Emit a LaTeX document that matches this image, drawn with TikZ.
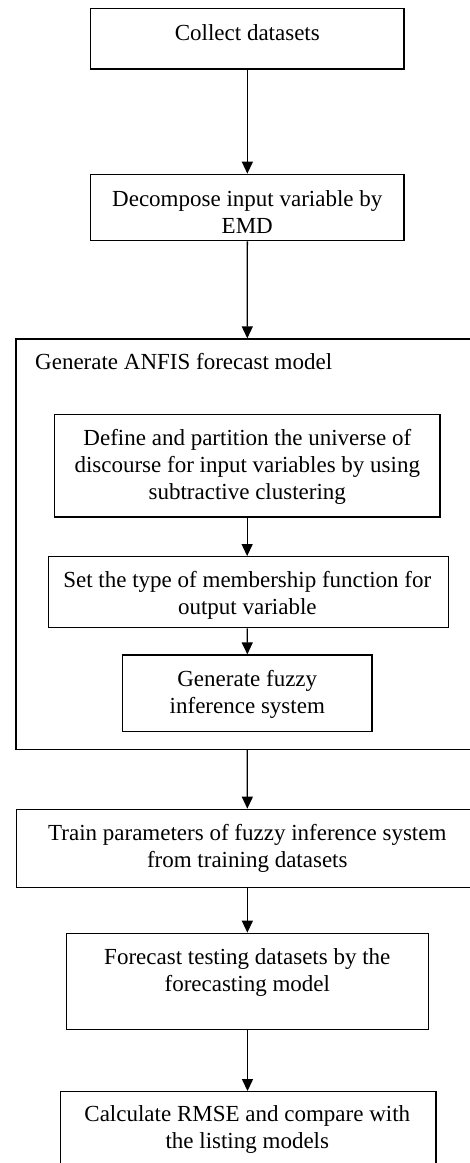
\documentclass[tikz,border=0pt]{standalone}
\usepackage{fontspec}
\setmainfont{Liberation Serif}
\usetikzlibrary{arrows.meta}

\begin{document}
\begin{tikzpicture}[x=1pt,y=1pt,yscale=-1,xscale=1,
  stepbox/.style={draw,line width=1.3,inner sep=0pt},
  steptext/.style={anchor=base,align=center,inner sep=0pt,font=\fontsize{23}{27}\selectfont},
  flow/.style={line width=1.3,-{Triangle[length=12,width=11]}}]
\useasboundingbox (0,0) rectangle (470,1163);
\clip (0,0) rectangle (470,1163);

%Shape: Rectangle [id:collect] 
\node [stepbox,minimum width=313.3,minimum height=60.7] (collect) at (247.35,38.65) {};
%Shape: Rectangle [id:decomp] 
\node [stepbox,minimum width=313.3,minimum height=66.4] (decomp) at (247.35,207.5) {};
%Shape: Rectangle [id:anfis] 
\node [stepbox,minimum width=462.6,minimum height=410.3] (anfis) at (247.3,544.15) {};
%Shape: Rectangle [id:partition] 
\node [stepbox,minimum width=385.7,minimum height=102.3] (partition) at (247.15,465.85) {};
%Shape: Rectangle [id:mftype] 
\node [stepbox,minimum width=399.6,minimum height=71] (mftype) at (248.5,592.2) {};
%Shape: Rectangle [id:fis] 
\node [stepbox,minimum width=249.3,minimum height=76.7] (fis) at (247.35,693.35) {};
%Shape: Rectangle [id:train] 
\node [stepbox,minimum width=461.3,minimum height=78.4] (train) at (247.35,848.5) {};
%Shape: Rectangle [id:forecast] 
\node [stepbox,minimum width=361.6,minimum height=96] (forecast) at (247.5,981.3) {};
%Shape: Rectangle [id:rmse] 
\node [stepbox,minimum width=375.3,minimum height=88.3] (rmse) at (248.35,1135.85) {};

%Straight Lines 
\draw [flow] (collect.south) -- (decomp.north);
\draw [flow] (decomp.south) -- (anfis.north);
\draw [flow] (partition.south) -- (partition.south |- mftype.north);
\draw [flow] (partition.south |- mftype.south) -- (fis.north);
\draw [flow] (anfis.south) -- (train.north);
\draw [flow] (train.south) -- (train.south |- forecast.north);
\draw [flow] (forecast.south) -- (forecast.south |- rmse.north);

% Text Node (base = last line)
\node [steptext] (collect-txt) at (247.3,40.7) {Collect datasets};
% Text Node
\node [steptext] (decomp-txt) at (247.3,233.5) {Decompose input variable by\\EMD};
% Text Node
\node [steptext,anchor=base west] (anfis-txt) at (35,369) {Generate ANFIS forecast model};
% Text Node
\node [steptext] (partition-txt) at (247.3,499.5) {Define and partition the universe of\\discourse for input variables by using\\subtractive clustering};
% Text Node
\node [steptext] (mftype-txt) at (247.3,614.8) {Set the type of membership function for\\output variable};
% Text Node
\node [steptext] (fis-txt) at (247.3,713.2) {Generate fuzzy\\inference system};
% Text Node
\node [steptext] (train-txt) at (247.3,867.2) {Train parameters of fuzzy inference system\\from training datasets};
% Text Node
\node [steptext] (forecast-txt) at (247.3,991.7) {Forecast testing datasets by the\\forecasting model};
% Text Node
\node [steptext] (rmse-txt) at (247.3,1148.8) {Calculate RMSE and compare with\\the listing models};

\end{tikzpicture}
\end{document}
